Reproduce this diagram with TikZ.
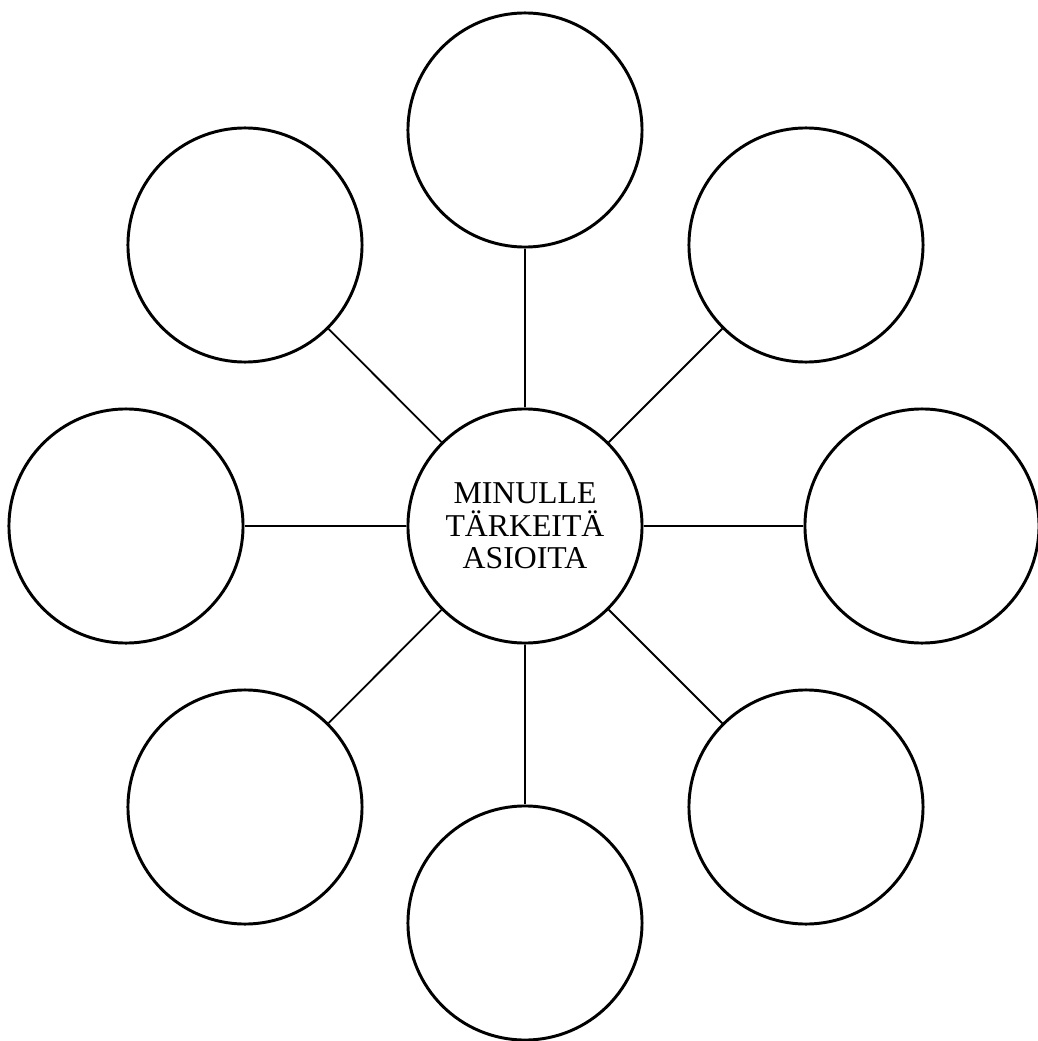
\documentclass[tikz,border=0pt]{standalone}
\usepackage{fontspec}
\setmainfont{Liberation Serif}
\begin{document}
\begin{tikzpicture}[x=0.025cm, y=0.025cm,
        c/.style={circle, draw, line width=2.1pt, minimum size=5.85cm, inner sep=0pt,
                  align=center, font=\fontsize{22.6}{23.2}\selectfont},
        l/.style={line width=1.3pt}
    ]
        \useasboundingbox (-525,-515) rectangle (513,526);
        \node[c] (mid) at (0,0)      {MINULLE\\TÄRKEITÄ\\ASIOITA};
        \node[c] (n)   at (0,396)    {};
        \node[c] (ne)  at (281,281)  {};
        \node[c] (e)   at (397,0)    {};
        \node[c] (se)  at (281,-281) {};
        \node[c] (s)   at (0,-397)   {};
        \node[c] (sw)  at (-280,-281){};
        \node[c] (w)   at (-399,0)   {};
        \node[c] (nw)  at (-280,281) {};
        \draw[l] (mid) -- (n);
        \draw[l] (mid) -- (ne);
        \draw[l] (mid) -- (e);
        \draw[l] (mid) -- (se);
        \draw[l] (mid) -- (s);
        \draw[l] (mid) -- (sw);
        \draw[l] (mid) -- (w);
        \draw[l] (mid) -- (nw);
    \end{tikzpicture}
\end{document}
